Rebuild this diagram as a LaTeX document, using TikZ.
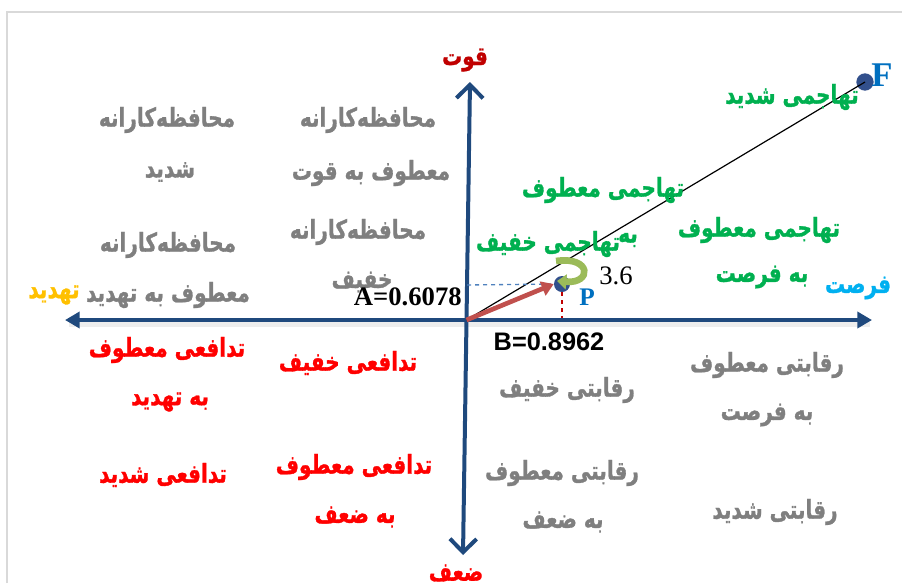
\documentclass[tikz,border=0pt]{standalone}
\usepackage{fontspec}
\usetikzlibrary{arrows.meta}
\newfontfamily\fa[Script=Arabic, FakeBold=1.2]{DejaVu Sans}
\newfontfamily\serifbf{Liberation Serif}
\newfontfamily\sansbf{Liberation Sans}
\TeXXeTstate=1
\newcommand\rtl[1]{\beginR#1\endR}
\definecolor{axisblue}{RGB}{31,73,125}
\definecolor{txtgray}{RGB}{127,127,127}
\definecolor{txtred}{RGB}{255,0,0}
\definecolor{darkred}{RGB}{192,0,0}
\definecolor{txtgreen}{RGB}{0,176,80}
\definecolor{txtcyan}{RGB}{0,176,240}
\definecolor{txtyellow}{RGB}{255,192,0}
\definecolor{arrred}{RGB}{192,80,77}
\definecolor{dashblue}{RGB}{79,129,189}
\definecolor{dotblue}{RGB}{50,80,140}
\definecolor{letblue}{RGB}{0,112,192}
\definecolor{olive}{RGB}{155,187,89}
\definecolor{framegray}{RGB}{217,217,217}
\tikzset{
  fa/.style={font=\fa\bfseries\fontsize{15}{18}\selectfont, inner sep=0pt, yscale=1.3, transform shape},
  gtxt/.style={fa, text=txtgray},
  rtxt/.style={fa, text=txtred},
  ntxt/.style={fa, text=txtgreen},
  axisline/.style={draw=axisblue, line width=3pt},
  axisshadow/.style={draw=black, opacity=0.07, line width=5pt},
  dotstyle/.style={circle, fill=dotblue, minimum size=12pt, inner sep=0pt},
}
\begin{document}
\begin{tikzpicture}[x=0.75pt,y=-0.75pt]
\useasboundingbox (0,0) rectangle (902,583);
% frame
\draw[framegray, line width=1.5pt] (7,583) -- (7,12) -- (902,12);
% coordinates
\coordinate (O) at (466.5,320);
\coordinate (Ltip) at (65,320);
\coordinate (Rtip) at (872,320);
\coordinate (Ttip) at (470,82);
\coordinate (Btip) at (463,555);
% shadows
\draw[axisshadow] ([shift={(4,4)}]Ltip) -- ([shift={(-2,4)}]Rtip);
% axes
\draw[axisline, -{Triangle[length=11pt,width=12pt]}] (O) -- (Rtip);
\draw[axisline, -{Triangle[length=11pt,width=12pt]}] (O) -- (Ltip);
\draw[axisline, -{Straight Barb[length=10pt,width=20pt,line width=3pt]}] (O) -- (Ttip);
\draw[axisline, -{Straight Barb[length=10pt,width=20pt,line width=3pt]}] (O) -- (Btip);
% points
\node[dotstyle] (P) at (562,284) {};
\node[dotstyle, minimum size=13pt] (F) at (865,82) {};
\coordinate (Px) at (562,318);
\coordinate (Py) at (467,285);
% line O-F
\draw[black, line width=0.9pt] (O) -- (F.center);
% dashed helpers
\draw[dashblue, dashed, line width=1pt] (Py) -- (P.west);
\draw[darkred, dashed, line width=1pt] (P.south) -- (Px);
% red vector
\draw[arrred, line width=3.5pt, -{Triangle[length=9pt,width=11pt]}] (O) -- (P.west);
% green curved arrow
\coordinate (c1) at (556,261);
\coordinate (c2) at (557,281);
\draw[olive, line width=5pt, -{Triangle[length=7pt,width=11pt]}] (c1) .. controls (592,256) and (592,284) .. (c2);
% point labels
\node[font=\serifbf\bfseries\fontsize{26}{26}\selectfont, text=letblue, inner sep=0pt] (Flab) at (882,75) {F};
\node[font=\serifbf\bfseries\fontsize{19}{19}\selectfont, text=letblue, inner sep=0pt] (Plab) at (587,297) {P};
\node[font=\serifbf\fontsize{20}{20}\selectfont, inner sep=0pt] (v36) at (616,276) {3.6};
% axis labels
\node[fa, text=darkred] (qovat) at (465,60) {\rtl{قوت}};
\node[fa, text=txtred] (zaaf) at (456,573) {\rtl{ضعف}};
\node[fa, text=txtcyan] (forsat) at (858,288) {\rtl{فرصت}};
\node[fa, text=txtyellow] (tahdid) at (54,295) {\rtl{تهدید}};
% gray upper-left
\node[gtxt] (g1a) at (167,120) {\rtl{محافظه‌کارانه}};
\node[gtxt] (g1b) at (170,172) {\rtl{شدید}};
\node[gtxt] (g2a) at (368,120) {\rtl{محافظه‌کارانه}};
\node[gtxt] (g2b) at (371,173) {\rtl{معطوف به قوت}};
\node[gtxt] (g3a) at (358,232) {\rtl{محافظه‌کارانه}};
\node[gtxt] (g3b) at (362,282) {\rtl{خفیف}};
\node[gtxt] (g4a) at (168,245) {\rtl{محافظه‌کارانه}};
\node[gtxt] (g4b) at (168,295) {\rtl{معطوف به تهدید}};
% values
\node[font=\serifbf\bfseries\fontsize{20}{20}\selectfont, inner sep=0pt, anchor=east] (Aval) at (462,297) {A=0.6078};
\node[font=\sansbf\bfseries\fontsize{19}{19}\selectfont, inner sep=0pt] (Bval) at (549,342) {B=0.8962};
% green upper-right
\node[ntxt] (n1) at (792,97) {\rtl{تهاجمی شدید}};
\node[ntxt] (n2a) at (603,190) {\rtl{تهاجمی معطوف}};
\node[ntxt] (n2b) at (628,240) {\rtl{به}};
\node[ntxt] (n3) at (548,244) {\rtl{تهاجمی خفیف}};
\node[ntxt] (n4a) at (759,230) {\rtl{تهاجمی معطوف}};
\node[ntxt] (n4b) at (762,277) {\rtl{به فرصت}};
% red lower-left
\node[rtxt] (r1a) at (167,350) {\rtl{تدافعی معطوف}};
\node[rtxt] (r1b) at (170,402) {\rtl{به تهدید}};
\node[rtxt] (r2) at (348,363) {\rtl{تدافعی خفیف}};
\node[rtxt] (r3) at (163,475) {\rtl{تدافعی شدید}};
\node[rtxt] (r4a) at (354,467) {\rtl{تدافعی معطوف}};
\node[rtxt] (r4b) at (355,517) {\rtl{به ضعف}};
% gray lower-right
\node[gtxt] (q1a) at (767,365) {\rtl{رقابتی معطوف}};
\node[gtxt] (q1b) at (767,415) {\rtl{به فرصت}};
\node[gtxt] (q2) at (567,390) {\rtl{رقابتی خفیف}};
\node[gtxt] (q3a) at (562,473) {\rtl{رقابتی معطوف}};
\node[gtxt] (q3b) at (563,522) {\rtl{به ضعف}};
\node[gtxt] (q4) at (775,512) {\rtl{رقابتی شدید}};
\end{tikzpicture}
\end{document}
